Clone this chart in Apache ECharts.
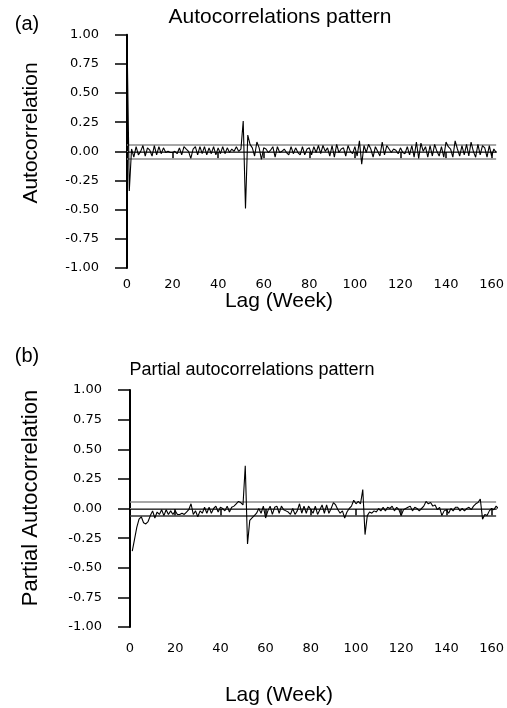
<!DOCTYPE html>
<html><head><meta charset="utf-8">
<script src="https://cdn.jsdelivr.net/npm/echarts/dist/echarts.min.js"></script>
<style>html,body{margin:0;padding:0;background:#fff}#c{width:507px;height:708px}</style>
</head><body><div id="c"></div>
<script>
// ACF values, lags 0..162
const acfValues = [
 1.00,-0.34,0.02,-0.05,0.04,-0.03,0.00,0.05,-0.04,0.03,
 0.01,-0.04,0.05,-0.03,0.04,-0.02,0.03,-0.01,0.00,-0.01,
 -0.01,0.00,-0.02,0.03,-0.03,0.04,0.02,0.00,-0.06,0.02,
 0.04,-0.03,0.04,-0.02,0.04,-0.03,0.03,-0.02,0.04,-0.03,
 0.03,-0.02,0.04,-0.02,0.03,-0.01,0.02,0.00,0.04,0.00,
 0.02,0.26,-0.49,0.14,0.06,0.03,-0.04,0.08,0.03,-0.07,
 0.03,0.02,-0.01,0.01,0.04,-0.05,0.04,-0.01,0.00,0.02,
 -0.01,-0.03,0.04,-0.02,0.03,-0.01,-0.03,0.04,-0.03,0.02,
 0.03,-0.03,0.04,-0.01,0.05,-0.02,0.05,0.00,0.03,-0.04,
 0.05,-0.05,0.06,-0.01,0.02,0.03,-0.04,0.05,0.00,-0.02,
 0.04,-0.04,0.09,-0.11,0.05,-0.01,0.06,0.02,-0.05,0.04,
 0.00,-0.04,0.08,-0.03,0.05,0.02,-0.01,0.02,0.01,-0.02,
 0.03,-0.01,-0.02,0.04,-0.03,0.05,-0.05,0.08,-0.06,0.07,
 0.00,0.04,-0.05,0.05,-0.04,0.06,0.00,-0.04,0.04,-0.05,
 0.08,0.04,0.02,-0.05,0.09,0.02,-0.04,0.05,-0.03,0.06,
 -0.04,0.08,0.00,-0.05,0.06,-0.03,0.05,0.03,-0.05,0.05,
 -0.04,0.02,-0.01
];
// PACF values, lags 1..162
const pacfValues = [
 -0.36,-0.26,-0.16,-0.09,-0.07,-0.12,-0.13,-0.11,-0.06,-0.02,
 -0.08,-0.03,-0.05,-0.01,-0.06,-0.01,-0.05,-0.02,-0.05,-0.02,
 -0.05,-0.05,-0.04,-0.05,-0.03,-0.01,0.04,-0.05,-0.02,-0.07,
 -0.02,-0.04,0.01,-0.04,0.01,-0.04,0.00,0.02,-0.03,0.01,
 0.00,-0.02,0.02,-0.03,0.01,0.02,0.04,0.06,0.05,0.03,
 0.36,-0.30,-0.10,-0.08,-0.06,-0.04,0.00,-0.04,0.02,-0.08,
 -0.02,0.02,-0.05,0.01,0.02,-0.04,0.02,-0.01,-0.02,-0.03,
 -0.05,0.00,-0.05,-0.02,0.04,-0.04,0.02,-0.04,0.02,-0.01,
 -0.04,0.02,-0.05,-0.01,0.03,-0.04,0.03,-0.04,0.00,0.05,
 0.03,-0.01,-0.04,-0.02,-0.08,-0.03,0.00,0.02,0.07,0.04,
 0.06,0.04,0.16,-0.22,-0.06,-0.03,-0.04,-0.02,-0.03,0.00,
 -0.02,0.01,-0.02,0.01,0.00,0.02,-0.02,0.01,-0.01,-0.06,
 -0.01,0.00,0.01,0.02,-0.02,0.01,0.00,-0.02,0.00,0.02,
 0.06,0.04,0.05,0.02,0.03,-0.01,0.01,-0.06,-0.02,-0.01,
 -0.04,0.00,-0.02,0.01,0.01,-0.02,0.00,-0.02,0.00,0.01,
 -0.01,0.02,0.04,0.05,0.08,-0.09,-0.05,-0.06,-0.02,0.00,
 -0.01,0.02,0.00
];
const xTickValues = [0,20,40,60,80,100,120,140,160];
const confBand = [0.06, -0.06];
const titles = ['Autocorrelations pattern', 'Partial autocorrelations pattern'];
const panelLabels = ['(a)', '(b)'];
const yNames = ['Autocorrelation', 'Partial Autocorrelation'];
const xName = 'Lag (Week)';

const acfData = acfValues.map((v, i) => [i, v]);
const pacfData = pacfValues.map((v, i) => [i + 1, v]);

const TICKFONT = 'DejaVu Sans';

function xAxis(gi, margin) {
  return {
    type: 'value', gridIndex: gi, min: 0, max: 162,
    axisLine: { lineStyle: { color: '#000', width: 1.5 } },
    axisTick: { length: 7, customValues: xTickValues, lineStyle: { color: '#000', width: 1.5 } },
    axisLabel: { customValues: xTickValues, margin: margin, fontFamily: TICKFONT, fontSize: 13, color: '#000' },
    splitLine: { show: false }
  };
}
function yAxis(gi) {
  return {
    type: 'value', gridIndex: gi, min: -1, max: 1, interval: 0.25,
    axisLine: { show: true, onZero: false, lineStyle: { color: '#000', width: 2 } },
    axisTick: { show: true, length: 12, lineStyle: { color: '#000', width: 1.5 } },
    axisLabel: { margin: 28, fontFamily: TICKFONT, fontSize: 13, color: '#000',
      formatter: v => v.toFixed(2) },
    splitLine: { show: false }
  };
}
function bandLines(lowerColor) {
  return {
    silent: true, symbol: 'none', label: { show: false },
    data: [
      { yAxis: confBand[0], lineStyle: { color: '#8a8a8a', width: 1.5, type: 'solid' } },
      { yAxis: 0, lineStyle: { color: '#8a8a8a', width: 1.2, type: 'solid' } },
      { yAxis: confBand[1], lineStyle: { color: lowerColor, width: 1.5, type: 'solid' } }
    ]
  };
}
function txt(x, y, text, size, rot) {
  return { type: 'text', x: x, y: y, rotation: rot || 0,
    style: { text: text, font: size + 'px "Liberation Sans"', fill: '#000', align: 'center', verticalAlign: 'middle' } };
}

const chart = echarts.init(document.getElementById('c'), null, { renderer: 'canvas' });
chart.setOption({
  animation: false,
  backgroundColor: '#fff',
  grid: [
    { left: 127, top: 34.7, width: 371.8, height: 233.3 },
    { left: 130, top: 390, width: 367.3, height: 237 }
  ],
  xAxis: [xAxis(0, 10), xAxis(1, 15)],
  yAxis: [yAxis(0), yAxis(1)],
  graphic: [
    txt(27, 24, panelLabels[0], 20),
    txt(280, 17, titles[0], 21),
    txt(27, 356, panelLabels[1], 20),
    txt(252, 370, titles[1], 18),
    txt(31, 133, yNames[0], 21, Math.PI / 2),
    txt(31, 498, yNames[1], 22, Math.PI / 2),
    txt(279, 301, xName, 21),
    txt(279, 695, xName, 21)
  ],
  series: [
    { type: 'line', xAxisIndex: 0, yAxisIndex: 0, data: acfData, symbol: 'none',
      lineStyle: { color: '#000', width: 1.1 }, z: 5, markLine: bandLines('#8a8a8a') },
    { type: 'line', xAxisIndex: 1, yAxisIndex: 1, data: pacfData, symbol: 'none',
      lineStyle: { color: '#000', width: 1.1 }, z: 5, markLine: bandLines('#333') }
  ]
});
</script></body></html>
